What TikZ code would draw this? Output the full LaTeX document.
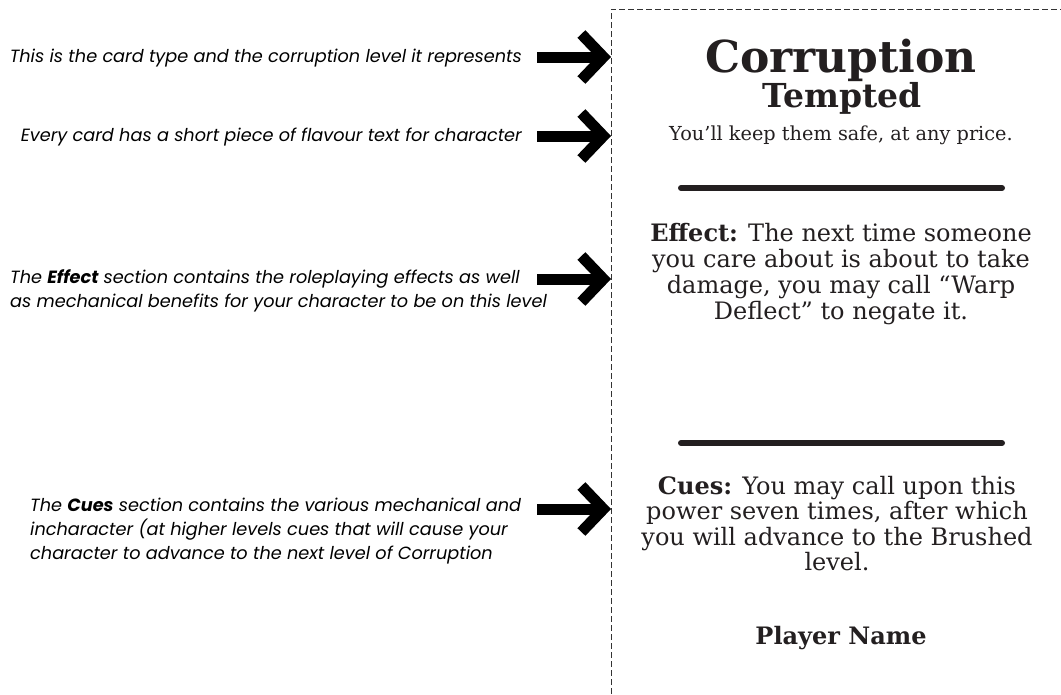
\documentclass[tikz,border=0pt]{standalone}
\usepackage{fontspec}
\setmainfont{DejaVu Serif}
\newfontfamily\notefont{Poppins}
\usetikzlibrary{arrows.meta,positioning}
\definecolor{ink}{HTML}{231F20}

\begin{document}
\begin{tikzpicture}[x=1pt,y=-1pt,
    notetext/.style={font=\notefont\itshape\fontsize{17.7}{24}\selectfont, inner sep=0pt, text=black},
    pointer/.style={line width=11pt, -{Straight Barb[length=22pt,width=46pt]}},
    cardedge/.style={draw=black!80, dash pattern=on 6pt off 3pt, line width=0.9pt},
    cardrule/.style={line width=6pt, line cap=round, draw=ink},
    cardtext/.style={text=ink, inner sep=0pt, align=center}]
    \useasboundingbox (0,0) rectangle (1061,694);

    \coordinate (c1) at (611,694);
    \coordinate (c2) at (611,9);
    \coordinate (c3) at (1061,9);
    \draw[cardedge] (c1) -- (c2) -- (c3);

    \node[notetext, anchor=base east] (n1) at (522,62) {This is the card type and the corruption level it represents};
    \node[notetext, anchor=base east] (n2) at (522,141) {Every card has a short piece of flavour text for character};
    \node[notetext, anchor=north west, align=left] (n3) at (10,269) {The \textbf{Effect} section contains the roleplaying effects as well\\as mechanical benefits for your character to be on this level};
    \node[notetext, anchor=north west, align=left] (n4) at (30,498) {The \textbf{Cues} section contains the various mechanical and\\incharacter (at higher levels cues that will cause your\\character to advance to the next level of Corruption};

    \coordinate (a1) at (537,57);  \coordinate (t1) at (611,57);
    \coordinate (a2) at (537,136); \coordinate (t2) at (611,136);
    \coordinate (a3) at (537,279); \coordinate (t3) at (611,279);
    \coordinate (a4) at (537,509); \coordinate (t4) at (611,509);
    \draw[pointer] (a1) -- (t1);
    \draw[pointer] (a2) -- (t2);
    \draw[pointer] (a3) -- (t3);
    \draw[pointer] (a4) -- (t4);

    \node[cardtext, anchor=base, font=\bfseries\fontsize{44}{50}\selectfont] (kind) at (841,72) {Corruption};
    \node[cardtext, anchor=base, font=\bfseries\fontsize{33}{38}\selectfont] (level) at (842,107) {Tempted};
    \node[cardtext, anchor=base, font=\fontsize{19.3}{23}\selectfont] (flavour) at (841,140) {You’ll keep them safe, at any price.};

    \coordinate (r1a) at (681,188); \coordinate (r1b) at (1002,188);
    \coordinate (r2a) at (681,443); \coordinate (r2b) at (1002,443);
    \draw[cardrule] (r1a) -- (r1b);
    \draw[cardrule] (r2a) -- (r2b);

    \node[cardtext, anchor=north, font=\fontsize{24}{26}\selectfont] (effect) at (841,223) {\textbf{Effect:} The next time someone\\you care about is about to take\\damage, you may call “Warp\\Deflect” to negate it.};
    \node[cardtext, anchor=north, font=\fontsize{24}{25.5}\selectfont] (cues) at (837,476) {\textbf{Cues:} You may call upon this\\power seven times, after which\\you will advance to the Brushed\\level.};
    \node[cardtext, anchor=base, font=\bfseries\fontsize{24}{28}\selectfont] (player) at (841,644) {Player Name};
\end{tikzpicture}
\end{document}
